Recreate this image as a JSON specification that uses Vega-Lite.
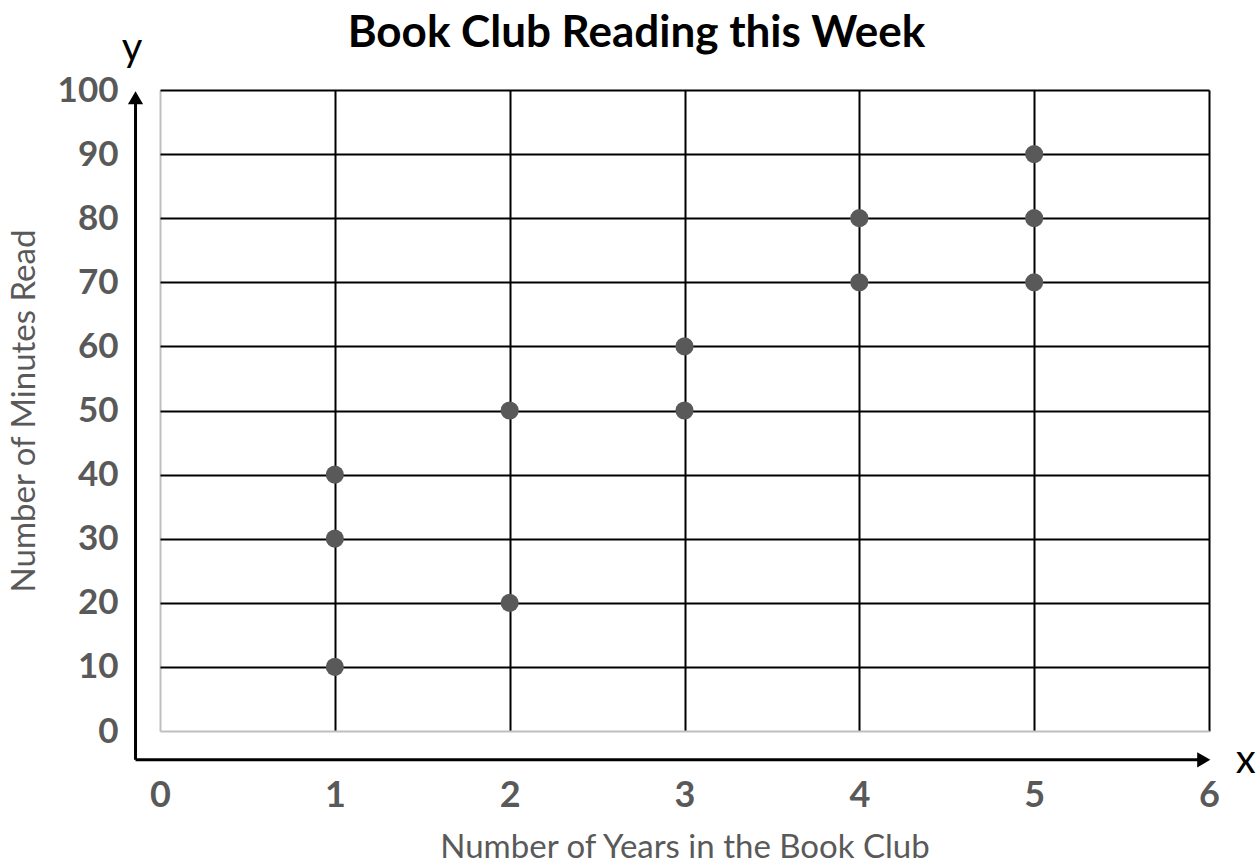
{
  "$schema": "https://vega.github.io/schema/vega-lite/v6.json",
  "autosize": "none",
  "width": 1049,
  "height": 641,
  "padding": {"left": 160, "top": 90, "right": 51, "bottom": 137},
  "background": "white",
  "config": {"view": {"stroke": null}, "font": "Lato"},
  "title": {"text": "Book Club Reading this Week", "fontSize": 44, "font": "Lato", "fontWeight": "bold", "color": "black", "anchor": "middle", "dx": -48, "offset": -27},
  "datasets": {
    "pts": [
      {"years": 1, "minutes": 10}, {"years": 1, "minutes": 30}, {"years": 1, "minutes": 40},
      {"years": 2, "minutes": 20}, {"years": 2, "minutes": 50},
      {"years": 3, "minutes": 50}, {"years": 3, "minutes": 60},
      {"years": 4, "minutes": 70}, {"years": 4, "minutes": 80},
      {"years": 5, "minutes": 70}, {"years": 5, "minutes": 80}, {"years": 5, "minutes": 90}
    ],
    "axes": [
      {"x": -0.14, "y": -4.5, "x2": -0.14, "y2": 98},
      {"x": -0.14, "y": -4.5, "x2": 5.95, "y2": -4.5}
    ],
    "heads": [
      {"x": -0.14, "y": 98.8, "shape": "triangle-up"},
      {"x": 5.97, "y": -4.5, "shape": "triangle-right"}
    ],
    "letters": [
      {"x": -0.16, "y": 104.6, "t": "y"},
      {"x": 6.21, "y": -6.55, "t": "x"}
    ]
  },
  "layer": [
    {
      "data": {"name": "pts"},
      "mark": {"type": "point", "filled": true, "opacity": 1, "color": "#595959", "size": 330},
      "encoding": {
        "x": {"field": "years", "type": "quantitative", "scale": {"domain": [0, 6], "nice": false, "zero": false},
          "axis": {"title": "Number of Years in the Book Club", "titleFontSize": 33, "titleFontWeight": "normal", "titleColor": "#595959", "titlePadding": 18, "titleFont": "Lato",
            "values": [0, 1, 2, 3, 4, 5, 6], "format": "d", "labelFlush": false, "labelFontSize": 36, "labelFontWeight": "bold", "labelColor": "#595959", "labelPadding": 47, "labelFont": "Lato",
            "domain": false, "ticks": false, "grid": true, "gridWidth": 2,
            "gridColor": {"condition": {"test": "datum.value === 0", "value": "#bfbfbf"}, "value": "black"}}},
        "y": {"field": "minutes", "type": "quantitative", "scale": {"domain": [0, 100], "nice": false, "zero": false},
          "axis": {"title": "Number of Minutes Read", "titleFontSize": 33, "titleFontWeight": "normal", "titleColor": "#595959", "titlePadding": 16, "titleFont": "Lato",
            "values": [0, 10, 20, 30, 40, 50, 60, 70, 80, 90, 100], "format": "d", "labelFlush": false, "labelFontSize": 35, "labelFontWeight": "bold", "labelColor": "#595959", "labelPadding": 42, "labelFont": "Lato",
            "domain": false, "ticks": false, "grid": true, "gridWidth": 2,
            "gridColor": {"condition": {"test": "datum.value === 0", "value": "#bfbfbf"}, "value": "black"}}}
      }
    },
    {
      "data": {"name": "axes"},
      "mark": {"type": "rule", "color": "black", "strokeWidth": 3},
      "encoding": {
        "x": {"field": "x", "type": "quantitative"},
        "x2": {"field": "x2"},
        "y": {"field": "y", "type": "quantitative"},
        "y2": {"field": "y2"}
      }
    },
    {
      "data": {"name": "heads"},
      "mark": {"type": "point", "filled": true, "opacity": 1, "color": "black", "size": 230},
      "encoding": {
        "x": {"field": "x", "type": "quantitative"},
        "y": {"field": "y", "type": "quantitative"},
        "shape": {"field": "shape", "type": "nominal", "scale": null}
      }
    },
    {
      "data": {"name": "letters"},
      "mark": {"type": "text", "fontSize": 40, "font": "Lato", "color": "black", "align": "center", "baseline": "alphabetic"},
      "encoding": {
        "x": {"field": "x", "type": "quantitative"},
        "y": {"field": "y", "type": "quantitative"},
        "text": {"field": "t"}
      }
    }
  ]
}
